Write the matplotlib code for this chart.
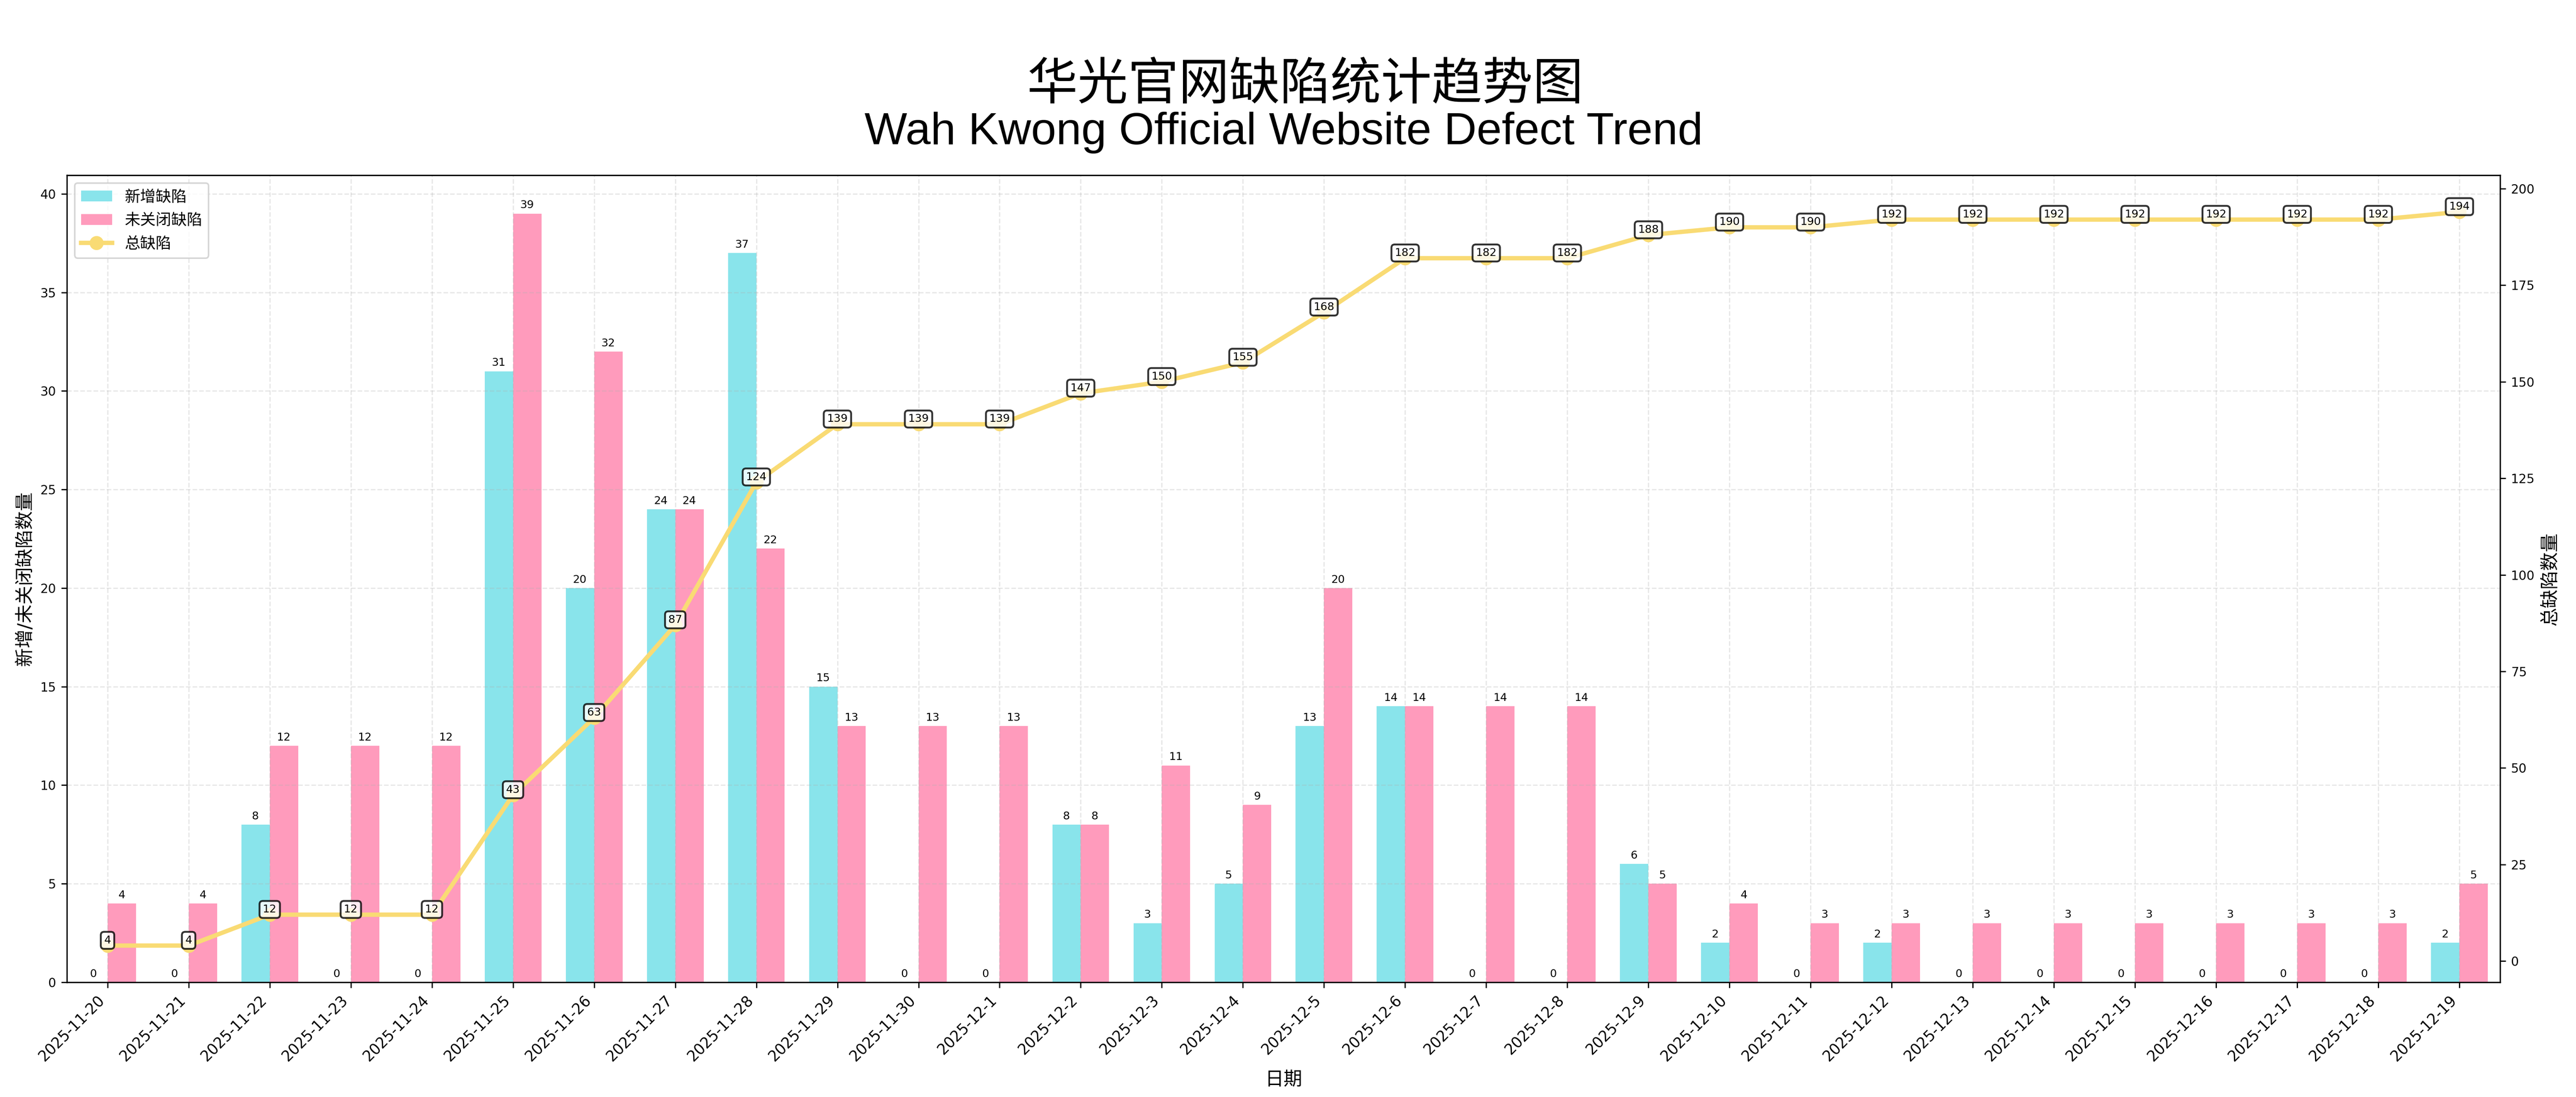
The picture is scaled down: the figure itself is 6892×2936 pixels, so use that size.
import matplotlib
matplotlib.use("Agg")
import matplotlib.pyplot as plt
import numpy as np

# daily defect statistics
dates = ["2025-11-20", "2025-11-21", "2025-11-22", "2025-11-23", "2025-11-24",
         "2025-11-25", "2025-11-26", "2025-11-27", "2025-11-28", "2025-11-29",
         "2025-11-30", "2025-12-1", "2025-12-2", "2025-12-3", "2025-12-4",
         "2025-12-5", "2025-12-6", "2025-12-7", "2025-12-8", "2025-12-9",
         "2025-12-10", "2025-12-11", "2025-12-12", "2025-12-13", "2025-12-14",
         "2025-12-15", "2025-12-16", "2025-12-17", "2025-12-18", "2025-12-19"]
new_defects = [0, 0, 8, 0, 0, 31, 20, 24, 37, 15, 0, 0, 8, 3, 5,
               13, 14, 0, 0, 6, 2, 0, 2, 0, 0, 0, 0, 0, 0, 2]
open_defects = [4, 4, 12, 12, 12, 39, 32, 24, 22, 13, 13, 13, 8, 11, 9,
                20, 14, 14, 14, 5, 4, 3, 3, 3, 3, 3, 3, 3, 3, 5]
total_defects = [4, 4, 12, 12, 12, 43, 63, 87, 124, 139, 139, 139, 147, 150, 155,
                 168, 182, 182, 182, 188, 190, 190, 192, 192, 192, 192, 192, 192, 192, 194]

title_cn = '华光官网缺陷统计趋势图'
title_en = 'Wah Kwong Official Website Defect Trend'

plt.rcParams['font.family'] = ['DejaVu Sans', 'Noto Sans CJK SC']
plt.rcParams['axes.unicode_minus'] = False

fig, ax = plt.subplots(figsize=(6892 / 300, 2936 / 300), dpi=300)
fig.subplots_adjust(left=0.026, right=0.9705, bottom=0.1046, top=0.8403)

x = np.arange(len(dates))
width = 0.35

bars_new = ax.bar(x - width / 2, new_defects, width, color='#89E4EB', label='新增缺陷')
bars_open = ax.bar(x + width / 2, open_defects, width, color='#FF9BBC', label='未关闭缺陷')

# value labels on top of the bars
for rect in list(bars_new) + list(bars_open):
    h = rect.get_height()
    ax.annotate(f'{int(h)}', (rect.get_x() + rect.get_width() / 2, h),
                xytext=(0, 2), textcoords='offset points',
                ha='center', va='bottom', fontsize=7)

ax.set_xlim(-0.5, len(dates) - 0.5)
ax.set_xticks(x)
ax.set_xticklabels(dates, rotation=45, ha='right', fontsize=9.5)
ax.tick_params(axis='y', labelsize=8)
ax.set_xlabel('日期', fontsize=12)
ax.set_ylabel('新增/未关闭缺陷数量', fontsize=12)
ax.grid(True, linestyle='--', alpha=0.3)

# cumulative total on the secondary axis
ax2 = ax.twinx()
line, = ax2.plot(x, total_defects, color='#F9DB74', linewidth=2.8,
                 marker='o', markersize=8, label='总缺陷')
for xi, v in zip(x, total_defects):
    ax2.annotate(str(v), (xi, v), xytext=(0, 0), textcoords='offset points',
                 ha='center', va='bottom', fontsize=7,
                 bbox=dict(boxstyle='round,pad=0.3', fc='white', ec='black',
                           lw=1.2, alpha=0.8))
ax2.set_ylabel('总缺陷数量', fontsize=12)
ax2.tick_params(axis='y', labelsize=8)

handles = [bars_new, bars_open, line]
ax.legend(handles, [h.get_label() for h in handles], loc='upper left', fontsize=10)

# two-line title: Chinese line above, English line below
cx = (0.026 + 0.9705) / 2
fig.text(cx + 0.0085, 0.9096, title_cn, ha='center', va='baseline', fontsize=32.5,
         family=['Noto Sans CJK SC'])
fig.text(cx, 0.8685, title_en, ha='center', va='baseline', fontsize=29,
         family=['Liberation Sans'])

fig.savefig('out.png', dpi=300)
